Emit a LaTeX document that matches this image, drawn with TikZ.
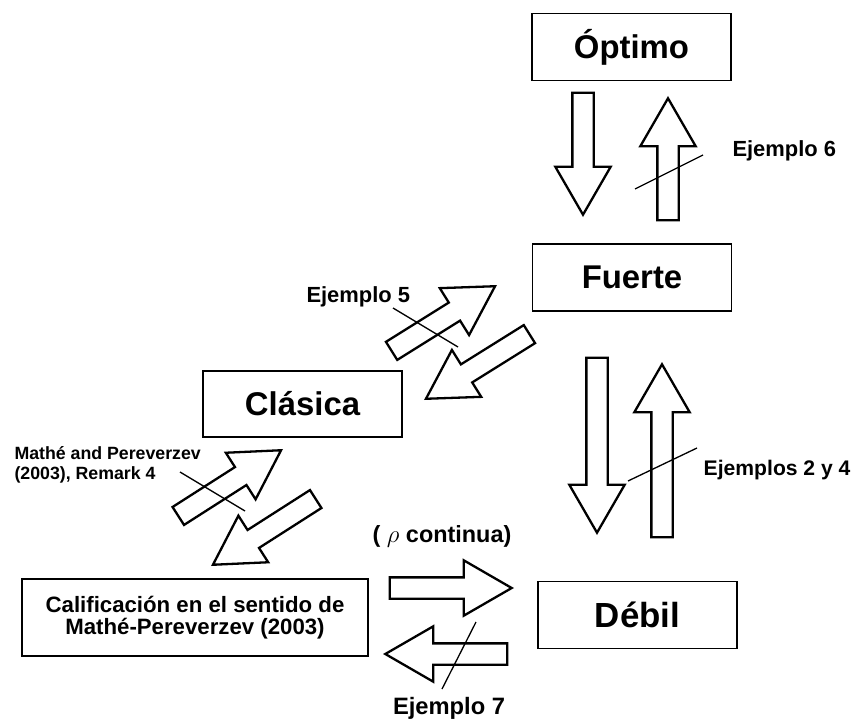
\documentclass[tikz,border=0pt]{standalone}
\usepackage{fontspec}
\setmainfont{Liberation Sans}
\usetikzlibrary{shapes.arrows}

\begin{document}
\begin{tikzpicture}[x=1bp, y=-1bp,
  statebox/.style={draw, line width=1.5bp, minimum width=199bp, minimum height=67bp,
    inner sep=0pt, font=\fontsize{33}{40}\selectfont\bfseries},
  blockarrow/.style={draw, line width=2.3bp, single arrow, single arrow head extend=17bp,
    single arrow tip angle=60, inner xsep=0pt, inner ysep=9.5bp, minimum height=122bp,
    anchor=tip},
  ejlabel/.style={font=\fontsize{22}{25}\selectfont\bfseries},
  strike/.style={line width=1.3bp}]
  \useasboundingbox (0,0) rectangle (858,720);

  % the five notions
  \node[statebox] (opt) at (631.5,47) {Óptimo};
  \node[statebox] (fue) at (632,277.5) {Fuerte};
  \node[statebox, minimum height=66bp] (cla) at (302.5,404) {Clásica};
  \node[statebox, minimum width=346bp, minimum height=77bp, align=center,
    font=\fontsize{22.3}{22.5}\selectfont\bfseries] (cal) at (195,617.5)
    {Calificación en el sentido de\\Mathé-Pereverzev (2003)};
  \node[statebox, font=\fontsize{35}{40}\selectfont\bfseries] (deb) at (637.5,615) {Débil};

  % implications (placed by their tips)
  \node[blockarrow, rotate=-90] (optfue) at (583,217) {};
  \node[blockarrow, rotate=90] (fueopt) at (668,96) {};
  \node[blockarrow, rotate=-90, minimum height=175bp] (fuedeb) at (597,535) {};
  \node[blockarrow, rotate=90, minimum height=173bp] (debfue) at (662,362) {};
  \node[blockarrow, rotate=32] (clafue) at (497,285) {};
  \node[blockarrow, rotate=212] (fuecla) at (424,400) {};
  \node[blockarrow, rotate=32.6] (calcla) at (283,449) {};
  \node[blockarrow, rotate=212.6] (clacal) at (211,566) {};
  \node[blockarrow] (caldeb) at (514,588) {};
  \node[blockarrow, rotate=180] (debcal) at (383,654) {};

  % counterexamples
  \node[ejlabel, anchor=base west] (ej6) at (729,157) {Ejemplo 6};
  \node[ejlabel, anchor=base west] (ej5) at (303,302) {Ejemplo 5};
  \node[ejlabel, anchor=base east, font=\fontsize{21.2}{25}\selectfont\bfseries]
    (ej24) at (854,475) {Ejemplos 2 y 4};
  \node[ejlabel, anchor=base, font=\fontsize{23.8}{28}\selectfont\bfseries]
    (ej7) at (449,714) {Ejemplo 7};
  \node[anchor=west, align=left, font=\fontsize{17.8}{20}\selectfont\bfseries]
    (mp) at (11,465) {Mathé and Pereverzev\\(2003), Remark 4};
  \node[font=\fontsize{23.5}{28}\selectfont\bfseries, anchor=base] (rho) at (442,542)
    {( $\rho$ continua)};

  % strike-through lines
  \coordinate (s6a) at (635,189);  \coordinate (s6b) at (703,155);
  \coordinate (s5a) at (393,308);  \coordinate (s5b) at (458,347);
  \coordinate (smpa) at (180,472); \coordinate (smpb) at (245,511);
  \coordinate (s24a) at (628,481); \coordinate (s24b) at (697,448);
  \coordinate (s7a) at (476,622);  \coordinate (s7b) at (442,689);
  \draw[strike] (s6a) -- (s6b);
  \draw[strike] (s5a) -- (s5b);
  \draw[strike] (smpa) -- (smpb);
  \draw[strike] (s24a) -- (s24b);
  \draw[strike] (s7a) -- (s7b);

\end{tikzpicture}
\end{document}
